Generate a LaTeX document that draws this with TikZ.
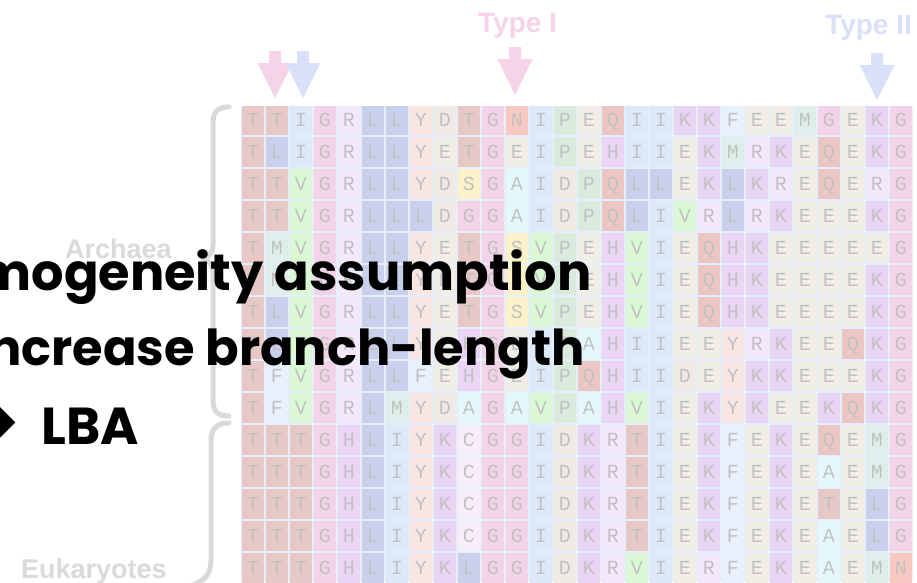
\documentclass[tikz,border=0pt]{standalone}
\usepackage{fontspec}
\setmainfont{Liberation Sans}
\newfontfamily\bigfont{Poppins}
\newfontfamily\cellfont{Liberation Mono}
\newfontfamily\symfont{DejaVu Sans}
\definecolor{gapcol}{HTML}{E6EEF9}
\definecolor{lettercol}{HTML}{C2C2C2}
\definecolor{bracecol}{HTML}{D9D9D9}
\definecolor{labelcol}{HTML}{DADADA}
\definecolor{pinkarrow}{HTML}{F6D3E7}
\definecolor{bluearrow}{HTML}{D9E0F8}
\definecolor{colT}{HTML}{E8C8C7}
\definecolor{colI}{HTML}{DDE9FA}
\definecolor{colG}{HTML}{F3D3E8}
\definecolor{colR}{HTML}{F4E9FC}
\definecolor{colL}{HTML}{C9D0EC}
\definecolor{colY}{HTML}{F8E6E3}
\definecolor{colD}{HTML}{EFEBE4}
\definecolor{colE}{HTML}{F1EEE7}
\definecolor{colN}{HTML}{F7C9C2}
\definecolor{colP}{HTML}{D8EBDD}
\definecolor{colQ}{HTML}{ECC6C2}
\definecolor{colK}{HTML}{E8D4F3}
\definecolor{colF}{HTML}{E8F0FD}
\definecolor{colM}{HTML}{DDEEEB}
\definecolor{colH}{HTML}{EAD6F4}
\definecolor{colV}{HTML}{DBF8D4}
\definecolor{colS}{HTML}{FBF2C9}
\definecolor{colA}{HTML}{E4F7FB}
\definecolor{colC}{HTML}{F8EDFA}
\tikzset{
  cellbox/.style={inner sep=0pt, minimum width=22.3pt, minimum height=29.5pt,
    text=lettercol, font=\cellfont\fontsize{20}{20}\selectfont, text height=13.5pt, text depth=0pt},
  bigtext/.style={inner sep=0pt, text=black, font=\bigfont\bfseries\fontsize{#1}{56}\selectfont},
  bigtext/.default=52,
  graylabel/.style={inner sep=0pt, text=labelcol, font=\bfseries\fontsize{27}{30}\selectfont},
  bracestyle/.style={draw=bracecol, line width=5pt, line cap=round, line join=round},
  typelabel/.style={inner sep=0pt, font=\bfseries\fontsize{28}{30}\selectfont}
}
\begin{document}
\begin{tikzpicture}[x=1pt,y=-1pt]
\useasboundingbox (0,0) rectangle (917,582);
\clip (0,0) rectangle (917,582);
\fill[white] (0,0) rectangle (917,582);
% alignment grid
\begin{scope}
\clip (241,106) rectangle (913,582);
\fill[gapcol] (241,106) rectangle (913,582);
\foreach \seq [count=\r from 0] in {
 {T,T,I,G,R,L,L,Y,D,T,G,N,I,P,E,Q,I,I,K,K,F,E,E,M,G,E,K,G},
 {T,L,I,G,R,L,L,Y,E,T,G,E,I,P,E,H,I,I,E,K,M,R,K,E,Q,E,K,G},
 {T,T,V,G,R,L,L,Y,D,S,G,A,I,D,P,Q,L,L,E,K,L,K,R,E,Q,E,R,G},
 {T,T,V,G,R,L,L,L,D,G,G,A,I,D,P,Q,L,I,V,R,L,R,K,E,E,E,K,G},
 {T,M,V,G,R,L,L,Y,E,T,G,S,V,P,E,H,V,I,E,Q,H,K,E,E,E,E,E,G},
 {T,M,V,G,R,L,L,Y,E,T,G,S,V,P,E,H,V,I,E,Q,H,K,E,E,E,E,K,G},
 {T,L,V,G,R,L,L,Y,E,T,G,S,V,P,E,H,V,I,E,Q,H,K,E,E,E,E,K,G},
 {T,L,V,G,R,L,L,Y,E,H,G,E,I,P,A,H,I,I,E,E,Y,R,K,E,E,Q,K,G},
 {T,F,V,G,R,L,L,F,E,H,G,E,I,P,Q,H,I,I,D,E,Y,K,K,E,E,E,K,G},
 {T,F,V,G,R,L,M,Y,D,A,G,A,V,P,A,H,V,I,E,K,Y,K,E,E,K,Q,K,G},
 {T,T,T,G,H,L,I,Y,K,C,G,G,I,D,K,R,T,I,E,K,F,E,K,E,Q,E,M,G},
 {T,T,T,G,H,L,I,Y,K,C,G,G,I,D,K,R,T,I,E,K,F,E,K,E,A,E,M,G},
 {T,T,T,G,H,L,I,Y,K,C,G,G,I,D,K,R,T,I,E,K,F,E,K,E,T,E,L,G},
 {T,T,T,G,H,L,I,Y,K,C,G,G,I,D,K,R,T,I,E,K,F,E,K,E,A,E,L,G},
 {T,T,T,G,H,L,I,Y,K,L,G,G,I,D,K,R,V,I,E,R,F,E,K,E,A,E,M,N}} {
  \foreach \a [count=\c from 0] in \seq {
    \node[cellbox, fill=col\a] (c-\r-\c) at ({252.9+24*\c},{119.75+32*\r}) {\a};
  }
}
\end{scope}
% braces
\draw[bracestyle] (229,107) .. controls (217,107) and (213,112) .. (213,124) -- (213,244)
  .. controls (213,252) and (210,257) .. (203,259) .. controls (210,261) and (213,266) .. (213,274)
  -- (213,400) .. controls (213,411) and (217,416) .. (229,416);
\draw[bracestyle] (229,423) .. controls (216,423) and (211,429) .. (211,442) -- (211,560)
  .. controls (211,574) and (205,581) .. (190,586);
% group labels
\node[graylabel, anchor=base west] (archaea) at (65,258) {Archaea};
\node[graylabel, anchor=base west] (eukaryotes) at (21,578) {Eukaryotes};
% type labels and arrows
\node[typelabel, text=pinkarrow, anchor=base west] (type1) at (478,32) {Type I};
\node[typelabel, text=bluearrow, anchor=base west] (type2) at (825,34) {Type II};
\fill[pinkarrow] (269,51) -- (281,51) -- (281,63) -- (292.5,63) -- (275,98) -- (257.5,63) -- (269,63) -- cycle;
\fill[bluearrow] (297,51) -- (309,51) -- (309,63) -- (320.5,63) -- (303,98) -- (285.5,63) -- (297,63) -- cycle;
\fill[pinkarrow] (509,47) -- (521,47) -- (521,59) -- (532.5,59) -- (515,95) -- (497.5,59) -- (509,59) -- cycle;
\fill[bluearrow] (871,53) -- (883,53) -- (883,65) -- (894.5,65) -- (877,100) -- (859.5,65) -- (871,65) -- cycle;
% overlay text
\node[bigtext=51, anchor=base east] (line1) at (592,290) {Homogeneity assumption};
\node[bigtext=49.5, anchor=base east] (line2) at (585,365) {Increase branch-length};
\node[bigtext=52, anchor=base west] (line3) at (41,444) {LBA};
\node[inner sep=0pt, anchor=base east, font=\symfont\fontsize{88}{90}\selectfont] (arrowsym) at (20,450) {➔};
\end{tikzpicture}
\end{document}
